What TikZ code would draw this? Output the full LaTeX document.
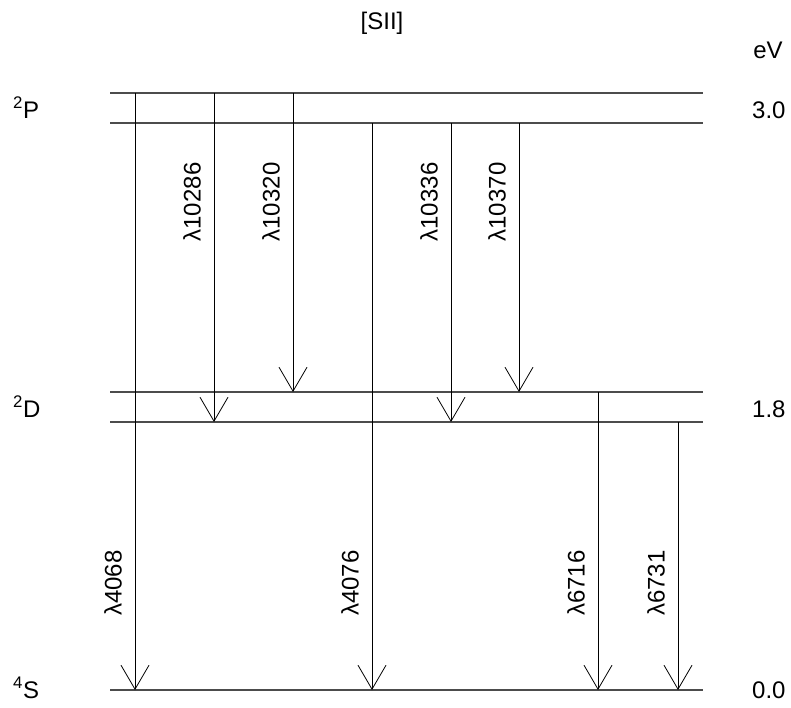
\documentclass[tikz,border=0pt]{standalone}
\usepackage{fontspec}
\setmainfont{Liberation Sans}
\usetikzlibrary{arrows.meta}

\begin{document}
\begin{tikzpicture}[x=1pt, y=-1pt, font=\fontsize{24}{28}\selectfont, level/.style={draw=black!70, line width=1.1pt}, trans/.style={draw, line width=0.8pt, -{Straight Barb[length=24pt, width=28pt, line width=0.8pt]}}, lbl/.style={rotate=90, inner sep=0pt}, term/.style={anchor=base west, inner sep=0pt}]
\useasboundingbox (0,0) rectangle (791,707);
% energy levels
\coordinate (Pu-l) at (110,93);  \coordinate (Pu-r) at (703,93);
\coordinate (Pl-l) at (110,123); \coordinate (Pl-r) at (703,123);
\coordinate (Du-l) at (110,392); \coordinate (Du-r) at (703,392);
\coordinate (Dl-l) at (110,422); \coordinate (Dl-r) at (703,422);
\coordinate (S-l) at (110,690);  \coordinate (S-r) at (703,690);
\draw[level] (Pu-l) -- (Pu-r);
\draw[level] (Pl-l) -- (Pl-r);
\draw[level] (Du-l) -- (Du-r);
\draw[level] (Dl-l) -- (Dl-r);
\draw[level] (S-l) -- (S-r);
% titles and level names
\node[anchor=base, inner sep=0pt] (title) at (382,29) {[SII]};
\node[anchor=base, inner sep=0pt] (unit) at (768,58) {eV};
\node[term] (termP) at (13,118) {\textsuperscript{2}P};
\node[term] (termD) at (13,417) {\textsuperscript{2}D};
\node[term] (termS) at (13,698) {\textsuperscript{4}S};
\node[term] (eP) at (752,118) {3.0};
\node[term] (eD) at (752,417) {1.8};
\node[term] (eS) at (752,698) {0.0};
% transitions
\coordinate (t4068-a) at (135,93);   \coordinate (t4068-b) at (135,690);
\coordinate (t10286-a) at (214,93);  \coordinate (t10286-b) at (214,422);
\coordinate (t10320-a) at (293,93);  \coordinate (t10320-b) at (293,392);
\coordinate (t4076-a) at (372,123);  \coordinate (t4076-b) at (372,690);
\coordinate (t10336-a) at (451,123); \coordinate (t10336-b) at (451,422);
\coordinate (t10370-a) at (519,123); \coordinate (t10370-b) at (519,392);
\coordinate (t6716-a) at (598,392);  \coordinate (t6716-b) at (598,690);
\coordinate (t6731-a) at (678,422);  \coordinate (t6731-b) at (678,690);
\draw[trans] (t4068-a) -- (t4068-b);
\draw[trans] (t10286-a) -- (t10286-b);
\draw[trans] (t10320-a) -- (t10320-b);
\draw[trans] (t4076-a) -- (t4076-b);
\draw[trans] (t10336-a) -- (t10336-b);
\draw[trans] (t10370-a) -- (t10370-b);
\draw[trans] (t6716-a) -- (t6716-b);
\draw[trans] (t6731-a) -- (t6731-b);
\node[lbl] (l10286) at (192,202) {λ10286};
\node[lbl] (l10320) at (271,202) {λ10320};
\node[lbl] (l10336) at (429,202) {λ10336};
\node[lbl] (l10370) at (497,202) {λ10370};
\node[lbl] (l4068) at (113,583) {λ4068};
\node[lbl] (l4076) at (350,583) {λ4076};
\node[lbl] (l6716) at (576,583) {λ6716};
\node[lbl] (l6731) at (656,583) {λ6731};
\end{tikzpicture}
\end{document}
